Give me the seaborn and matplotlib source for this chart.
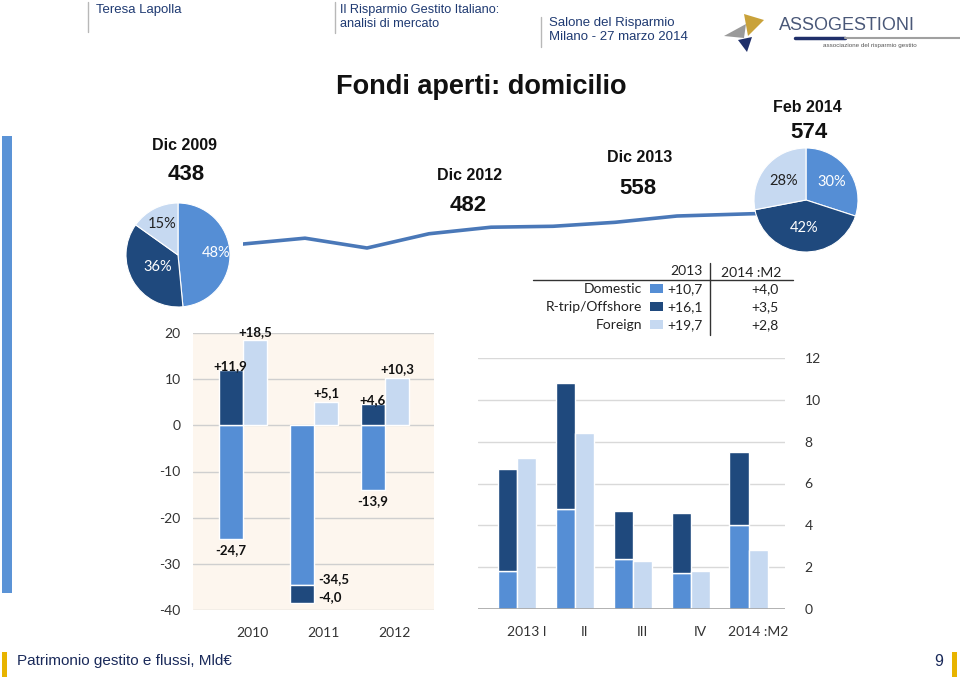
import numpy as np
import pandas as pd
import matplotlib
matplotlib.use("Agg")
import matplotlib.pyplot as plt
from matplotlib.patches import Rectangle, Polygon
from matplotlib.lines import Line2D
import seaborn as sns

# ---------------- data ----------------
years_flow = ["2010", "2011", "2012"]
dom_year = [-24.7, -34.5, -13.9]
rtrip_year = [11.9, -4.0, 4.6]
foreign_year = [18.5, 5.1, 10.3]

quarters = ["2013 I", "II", "III", "IV", "2014 :M2"]
dom_q = [1.8, 4.8, 2.4, 1.7, 4.0]
rtrip_q = [4.9, 6.0, 2.3, 2.9, 3.5]
foreign_q = [7.2, 8.4, 2.3, 1.8, 2.8]

aum_periods = ["Dic 2009", "Dic 2010", "Dic 2011", "Dic 2012",
               "Mar 2013", "Giu 2013", "Set 2013", "Dic 2013", "Feb 2014"]
aum = [438, 463, 421, 482, 510, 514, 531, 558, 574]
callouts = ["Dic 2009", "Dic 2012", "Dic 2013", "Feb 2014"]

series = ["Domestic", "R-trip/Offshore", "Foreign"]
pie_2009 = [48, 36, 15]
pie_2014 = [30, 42, 28]
flows_2013 = [10.7, 16.1, 19.7]
flows_2014m2 = [4.0, 3.5, 2.8]

# ---------------- style ----------------
sns.set_theme(style="white")
plt.rcParams["font.family"] = ["Lato", "DejaVu Sans"]
plt.rcParams["axes.unicode_minus"] = False

C_DOM = "#558ed5"
C_RT = "#1f497d"
C_FOR = "#c6d9f1"
colors = [C_DOM, C_RT, C_FOR]
NAVY = "#1f3a72"
GOLD = "#e8b400"
NARROW = ["Liberation Sans", "DejaVu Sans"]
ARIAL = ["Liberation Sans", "DejaVu Sans"]

W, H = 960, 682
fig = plt.figure(figsize=(9.6, 6.82), dpi=100)


def fx(x):
    return x / W


def fy(y):
    return 1 - y / H


def fmt(v):
    return f"{v:+.1f}".replace(".", ",")


# ---------------- header ----------------
for (x, y0, y1) in [(88, 2, 32), (335, 2, 33), (541, 17, 47)]:
    fig.add_artist(Line2D([fx(x), fx(x)], [fy(y0), fy(y1)], color="#b8b8b8", lw=1))
fig.text(fx(96), fy(10), "Teresa Lapolla", family=NARROW, fontsize=9.5, color=NAVY, va="center")
fig.text(fx(340), fy(10), "Il Risparmio Gestito Italiano:", family=NARROW, fontsize=9.2, color=NAVY, va="center")
fig.text(fx(340), fy(24), "analisi di mercato", family=NARROW, fontsize=9.2, color=NAVY, va="center")
fig.text(fx(549), fy(23), "Salone del Risparmio", family=NARROW, fontsize=9.5, color=NAVY, va="center")
fig.text(fx(549), fy(37), "Milano - 27 marzo 2014", family=NARROW, fontsize=9.5, color=NAVY, va="center")

# logo
def poly(pts, color):
    fig.add_artist(Polygon([(fx(a), fy(b)) for a, b in pts], closed=True,
                           facecolor=color, edgecolor="none"))

poly([(744, 14), (764, 20), (748, 36)], "#c9a23a")
poly([(724, 36), (746, 24), (744, 38)], "#9a9a9a")
poly([(738, 40), (752, 37), (747, 52)], "#1f2f6a")
fig.text(fx(779), fy(25), "ASSOGESTIONI", family=ARIAL, fontsize=13, color="#4a5878", va="center")
fig.add_artist(Line2D([fx(795), fx(845)], [fy(38), fy(38)], color="#1f2f6a", lw=2.5))
fig.add_artist(Line2D([fx(845), fx(960)], [fy(38), fy(38)], color="#a0a0a0", lw=1.5))
fig.text(fx(823), fy(46), "associazione del risparmio gestito", family=ARIAL, fontsize=4.5,
         color="#555555", va="center")

# title
fig.text(fx(481), fy(87), "Fondi aperti: domicilio", family=ARIAL, fontsize=19.5,
         fontweight="bold", color="#111111", ha="center", va="center")

# left blue bar
fig.add_artist(Rectangle((fx(2), fy(593)), fx(10), 457 / H, facecolor="#5b93d6", edgecolor="none"))

# footer
fig.add_artist(Rectangle((fx(2), fy(677)), fx(5), 25 / H, facecolor=GOLD, edgecolor="none"))
fig.add_artist(Rectangle((fx(952), fy(677)), fx(5), 25 / H, facecolor=GOLD, edgecolor="none"))
fig.text(fx(17), fy(661), "Patrimonio gestito e flussi, Mld\u20ac", family=NARROW, fontsize=11,
         color="#1a2a5a", va="center")
fig.text(fx(943), fy(661), "9", family=NARROW, fontsize=11.5, color="#1a2a5a", va="center", ha="right")

# ---------------- AuM trend line ----------------
line_x = [0, 1, 2, 3, 4, 5, 6, 7, 9]
ax_line = fig.add_axes([fx(243), fy(252.9), 558 / W, (252.9 - 206.2) / H])
df_line = pd.DataFrame({"x": line_x, "aum": aum})
sns.lineplot(data=df_line, x="x", y="aum", ax=ax_line, color="#4a78b8", linewidth=2.6)
ax_line.set_xlim(0, 9)
ax_line.set_ylim(400, 600)
ax_line.axis("off")
ax_line.patch.set_alpha(0)

# callout labels
callout_pos = {"Dic 2009": (184, 146, 186, 174), "Dic 2012": (470, 175, 468, 206),
               "Dic 2013": (640, 157, 638, 188), "Feb 2014": (807, 107, 809, 133)}
for name in callouts:
    v = aum[aum_periods.index(name)]
    x1, y1, x2, y2 = callout_pos[name]
    fig.text(fx(x1), fy(y1), name, family=ARIAL, fontsize=11.5, fontweight="bold",
             color="#111111", ha="center", va="center")
    fig.text(fx(x2), fy(y2), f"{v}", family=ARIAL, fontsize=16, fontweight="bold",
             color="#111111", ha="center", va="center")

# ---------------- pies ----------------
def draw_pie(cx, cy, r, vals, label_r, txtcols):
    ax = fig.add_axes([fx(cx - r), fy(cy + r), 2 * r / W, 2 * r / H])
    wedges, _ = ax.pie(vals, colors=colors, startangle=90, counterclock=False,
                       wedgeprops=dict(edgecolor="white", linewidth=0.8), radius=1)
    for w, v, lr, tc in zip(wedges, vals, label_r, txtcols):
        ang = np.deg2rad((w.theta1 + w.theta2) / 2)
        ax.text(lr * np.cos(ang), lr * np.sin(ang), f"{v}%", ha="center", va="center",
                fontsize=10.5, color=tc)
    ax.set_xlim(-1, 1)
    ax.set_ylim(-1, 1)
    ax.set_aspect("auto")
    ax.axis("off")
    return ax

draw_pie(178, 255, 52, pie_2009, [0.73, 0.45, 0.67], ["white", "white", "#222222"])
draw_pie(806, 200, 52, pie_2014, [0.6, 0.54, 0.56], ["white", "white", "#222222"])

# ---------------- legend table ----------------
fig.add_artist(Line2D([fx(533), fx(793)], [fy(280), fy(280)], color="#333333", lw=1))
fig.add_artist(Line2D([fx(710), fx(710)], [fy(263), fy(335)], color="#333333", lw=1))
fig.text(fx(703), fy(271), "2013", fontsize=10, color="#222222", ha="right", va="center")
fig.text(fx(751), fy(273), "2014 :M2", fontsize=10, color="#222222", ha="center", va="center")
for i, (name, a, b, c) in enumerate(zip(series, flows_2013, flows_2014m2, colors)):
    y = 289 + 18 * i
    fig.text(fx(642), fy(y), name, fontsize=10, color="#222222", ha="right", va="center")
    fig.add_artist(Rectangle((fx(650), fy(y + 4)), fx(13), 9 / H, facecolor=c, edgecolor="none"))
    fig.text(fx(703), fy(y), fmt(a), fontsize=10, color="#222222", ha="right", va="center")
    fig.text(fx(779), fy(y), fmt(b), fontsize=10, color="#222222", ha="right", va="center")

# ---------------- left bar chart (annual flows) ----------------
axL = fig.add_axes([fx(193), fy(610), 241 / W, 277 / H])
axL.set_facecolor("#fdf6ee")
xL = np.arange(len(years_flow))
bw = 0.34
dom_a = np.array(dom_year)
rt_a = np.array(rtrip_year)
rt_bottom = np.where(np.sign(rt_a) == np.sign(dom_a), dom_a, 0)
axL.bar(xL - bw / 2, dom_a, width=bw, color=C_DOM, zorder=3)
axL.bar(xL - bw / 2, rt_a, bottom=rt_bottom, width=bw, color=C_RT, zorder=3)
axL.bar(xL + bw / 2, foreign_year, width=bw, color=C_FOR, zorder=3)
axL.set_ylim(-40, 20)
axL.set_xlim(-0.70, 2.69)
axL.set_yticks(np.arange(-40, 21, 10))
axL.set_yticklabels([f"{t}" for t in range(-40, 21, 10)])
axL.set_xticks(xL + 0.14)
axL.set_xticklabels(years_flow)
axL.grid(axis="y", color="#cfcfcf", lw=1, zorder=0)
for s in axL.spines.values():
    s.set_visible(False)
axL.tick_params(axis="both", length=0, labelsize=10, colors="#333333")
axL.tick_params(axis="y", pad=9)
axL.tick_params(axis="x", pad=12)

lab_kw = dict(fontsize=9.5, fontweight="bold", color="#111111")
for i in range(len(years_flow)):
    d, r, f = dom_a[i], rt_a[i], foreign_year[i]
    axL.annotate(fmt(f), (xL[i] + bw / 2, f), xytext=(0, 6 if f > 0 else -9),
                 textcoords="offset points", ha="center", va="center", **lab_kw)
    if np.sign(r) == np.sign(d):
        axL.annotate(fmt(d).replace("+", ""), (xL[i], d), xytext=(3, 4), textcoords="offset points",
                     ha="left", va="center", **lab_kw)
        axL.annotate(fmt(r).replace("+", ""), (xL[i], d + r), xytext=(3, 4), textcoords="offset points",
                     ha="left", va="center", **lab_kw)
    else:
        axL.annotate(fmt(d), (xL[i] - bw / 2, d), xytext=(0, -8), textcoords="offset points",
                     ha="center", va="center", **lab_kw)
        axL.annotate(fmt(r), (xL[i] - bw / 2, r), xytext=(0, 3), textcoords="offset points",
                     ha="center", va="center", **lab_kw)

# ---------------- right bar chart (2013 quarters) ----------------
axR = fig.add_axes([fx(478), fy(609), 307 / W, 251 / H])
xR = np.arange(len(quarters))
bw2 = 0.33
axR.bar(xR - bw2 / 2, dom_q, width=bw2, color=C_DOM, zorder=3)
axR.bar(xR - bw2 / 2, rtrip_q, bottom=dom_q, width=bw2, color=C_RT, zorder=3)
axR.bar(xR + bw2 / 2, foreign_q, width=bw2, color=C_FOR, zorder=3)
axR.set_ylim(0, 12)
axR.set_xlim(-0.68, 4.63)
axR.set_yticks(np.arange(0, 13, 2))
axR.yaxis.tick_right()
axR.set_xticks(xR + 0.17)
axR.set_xticklabels(quarters)
axR.grid(axis="y", color="#d9d9d9", lw=1, zorder=0)
axR.axhline(0, color="#a6a6a6", lw=1.2, zorder=4)
for s in axR.spines.values():
    s.set_visible(False)
axR.tick_params(axis="both", length=0, labelsize=10, colors="#333333")
axR.tick_params(axis="y", pad=14)
axR.tick_params(axis="x", pad=12)
axR.set_facecolor("white")

fig.savefig("out.png", dpi=100)
